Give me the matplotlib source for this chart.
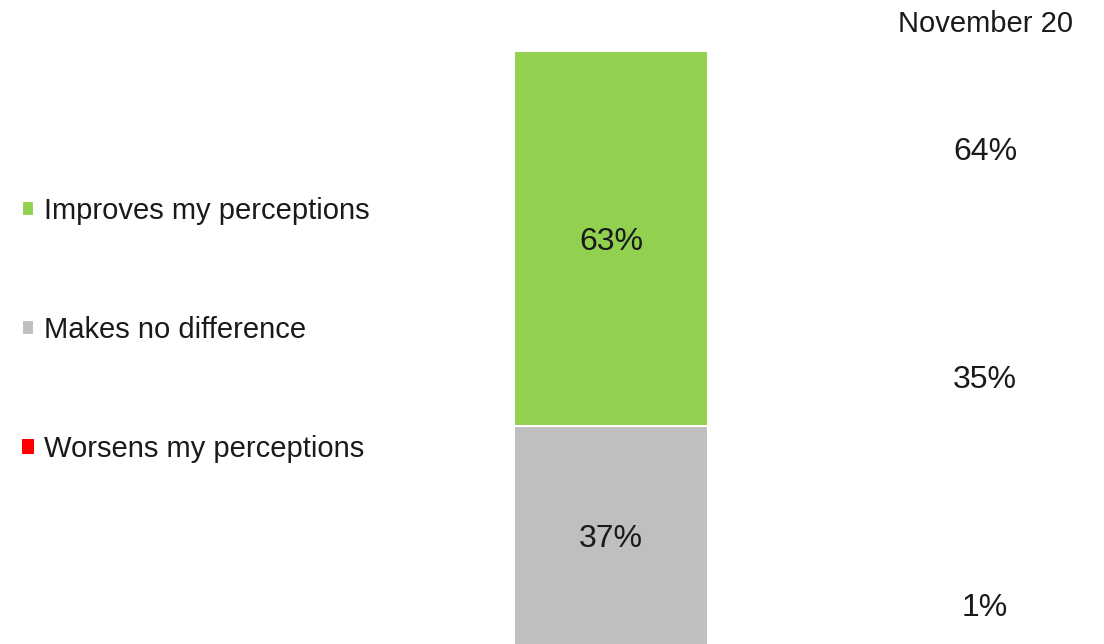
import numpy as np
import matplotlib.pyplot as plt

# data
categories = ['Worsens my perceptions', 'Makes no difference', 'Improves my perceptions']
colors = ['#FF0000', '#BFBFBF', '#92D050']
current = [0, 37, 63]          # stacked bar values (%)
previous_label = 'November 20'
previous = [1, 35, 64]         # comparison column (%)

plt.rcParams['font.family'] = ['Liberation Sans', 'DejaVu Sans']
txt_color = '#1a1a1a'

fig = plt.figure(figsize=(11.04, 6.44), dpi=100)
ax = fig.add_axes([514 / 1104, -2 / 644, 194 / 1104, 595 / 644])

bottom = 0
handles = []
for cat, val, col in zip(categories, current, colors):
    b = ax.bar(0, val, width=1.0, bottom=bottom, color=col,
               edgecolor='white', linewidth=1.5 if val > 0 else 0, label=cat)
    handles.append(b)
    if val > 0:
        ax.text(0, bottom + val / 2, '%d%%' % val, ha='center', va='center_baseline',
                fontsize=23, color=txt_color)
    bottom += val

ax.set_xlim(-0.5, 0.5)
ax.set_ylim(0, 100)
ax.axis('off')

# legend on the left, top row first
fig.legend(handles[::-1], categories[::-1], loc='center left',
           bbox_to_anchor=(0.02, 1 - 330 / 644), frameon=False,
           fontsize=21, labelspacing=3.12, handlelength=0.42, handleheight=0.42,
           handletextpad=0.33, borderpad=0, borderaxespad=0, labelcolor=txt_color)

# comparison column on the right
fig.text(985 / 1104, 1 - 21 / 644, previous_label, ha='center', va='center_baseline',
         fontsize=21, color=txt_color)
ys = [604, 376, 148]
for val, y in zip(previous, ys):
    fig.text(985 / 1104, 1 - y / 644, '%d%%' % val, ha='center', va='center_baseline',
             fontsize=23, color=txt_color)

fig.savefig('out.png', dpi=100)
